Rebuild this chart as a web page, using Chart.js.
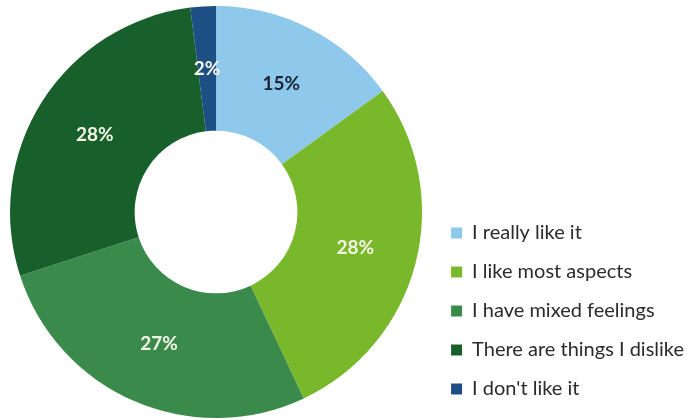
<!DOCTYPE html>
<html>
<head>
<meta charset="utf-8">
<script src="https://cdn.jsdelivr.net/npm/chart.js@4"></script>
<style>
  html, body { margin: 0; padding: 0; background: #fff; }
  #wrap { width: 699px; height: 420px; }
</style>
</head>
<body>
<div id="wrap"><canvas id="likeChart"></canvas></div>
<script>
const categories = ['I really like it', 'I like most aspects', 'I have mixed feelings', 'There are things I dislike', "I don't like it"];
const shares = [15, 28, 27, 28, 2];
const sliceColors = ['#8ec8ea', '#79b82a', '#3a8a4c', '#17602c', '#1d4f84'];
const labelColors = ['#1b2433', '#f4f4e6', '#f4f4e6', '#f4f4e6', '#f4f4e6'];

// draws the percentage in the middle of each ring slice
const sliceLabels = {
    id: 'sliceLabels',
    afterDatasetsDraw(chart) {
        const ctx = chart.ctx;
        const meta = chart.getDatasetMeta(0);
        ctx.save();
        ctx.font = 'bold 19px Lato';
        ctx.textAlign = 'center';
        ctx.textBaseline = 'middle';
        meta.data.forEach((arc, i) => {
            const pos = arc.tooltipPosition();
            ctx.fillStyle = labelColors[i];
            ctx.fillText(shares[i] + '%', pos.x, pos.y);
        });
        ctx.restore();
    }
};

const ctx = document.getElementById('likeChart').getContext('2d');
new Chart(ctx, {
    type: 'doughnut',
    data: {
        labels: categories,
        datasets: [{
            data: shares,
            backgroundColor: sliceColors,
            borderWidth: 0
        }]
    },
    options: {
        responsive: true,
        maintainAspectRatio: false,
        animation: false,
        cutout: '39.5%',
        layout: {
            padding: { top: 6, bottom: 2, left: 0, right: 5 }
        },
        plugins: {
            legend: {
                position: 'right',
                align: 'end',
                labels: {
                    boxWidth: 11,
                    boxHeight: 11,
                    padding: 19,
                    color: '#2b2b2b',
                    font: { family: 'Lato', size: 20 }
                }
            },
            tooltip: { enabled: false }
        }
    },
    plugins: [sliceLabels]
});
</script>
</body>
</html>
